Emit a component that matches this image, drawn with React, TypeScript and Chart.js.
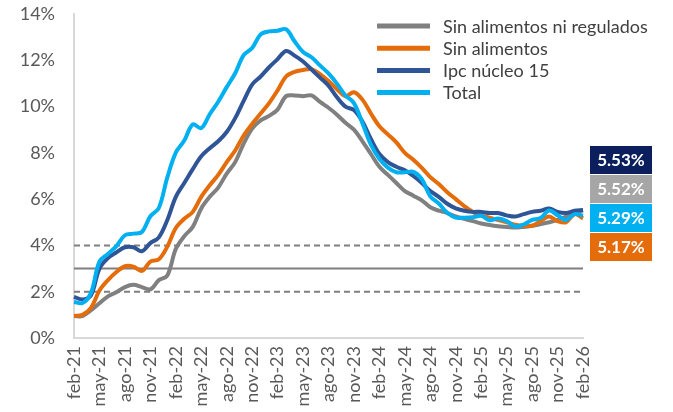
import React, { useEffect, useRef } from 'react';
import { Chart, registerables } from 'chart.js';

Chart.register(...registerables);

// ---------- DATA ----------
const months = [
  'feb-21', 'mar-21', 'abr-21', 'may-21', 'jun-21', 'jul-21', 'ago-21', 'sep-21', 'oct-21', 'nov-21', 'dic-21',
  'ene-22', 'feb-22', 'mar-22', 'abr-22', 'may-22', 'jun-22', 'jul-22', 'ago-22', 'sep-22', 'oct-22', 'nov-22', 'dic-22',
  'ene-23', 'feb-23', 'mar-23', 'abr-23', 'may-23', 'jun-23', 'jul-23', 'ago-23', 'sep-23', 'oct-23', 'nov-23', 'dic-23',
  'ene-24', 'feb-24', 'mar-24', 'abr-24', 'may-24', 'jun-24', 'jul-24', 'ago-24', 'sep-24', 'oct-24', 'nov-24', 'dic-24',
  'ene-25', 'feb-25', 'mar-25', 'abr-25', 'may-25', 'jun-25', 'jul-25', 'ago-25', 'sep-25', 'oct-25', 'nov-25', 'dic-25',
  'ene-26', 'feb-26',
];

const sinAlimentosNiRegulados = [
  0.95, 0.95, 1.2, 1.5, 1.8, 1.98, 2.2, 2.3, 2.2, 2.1, 2.5,
  2.7, 3.85, 4.4, 4.8, 5.6, 6.1, 6.5, 7.1, 7.6, 8.4, 9.05, 9.4,
  9.6, 9.87, 10.45, 10.48, 10.45, 10.48, 10.2, 9.95, 9.65, 9.3, 9.0, 8.5,
  7.95, 7.4, 7.05, 6.7, 6.35, 6.15, 5.95, 5.65, 5.5, 5.4, 5.25, 5.15,
  5.05, 4.95, 4.88, 4.83, 4.8, 4.77, 4.8, 4.85, 4.92, 5.0, 5.1, 5.25,
  5.4, 5.52,
];

const sinAlimentos = [
  0.95, 1.0, 1.3, 2.05, 2.5, 2.85, 3.1, 3.08, 2.9, 3.3, 3.4,
  3.95, 4.75, 5.15, 5.45, 6.1, 6.6, 7.05, 7.6, 8.1, 8.75, 9.25, 9.7,
  10.15, 10.7, 11.3, 11.5, 11.58, 11.62, 11.4, 11.1, 10.75, 10.45, 10.62, 10.3,
  9.7, 9.15, 8.8, 8.45, 8.0, 7.7, 7.35, 6.95, 6.65, 6.3, 6.0, 5.7,
  5.45, 5.3, 5.2, 5.1, 5.0, 4.9, 4.85, 4.85, 5.05, 5.25, 5.05, 5.0,
  5.35, 5.17,
];

const ipcNucleo15 = [
  1.78, 1.66, 1.85, 3.0, 3.45, 3.7, 3.92, 3.92, 3.75, 4.1, 4.35,
  5.1, 6.1, 6.7, 7.3, 7.85, 8.2, 8.5, 8.9, 9.5, 10.25, 10.95, 11.3,
  11.7, 12.05, 12.4, 12.2, 11.95, 11.6, 11.25, 10.9, 10.4, 10.0, 9.85, 9.35,
  8.6, 7.95, 7.6, 7.4, 7.25, 7.0, 6.7, 6.35, 6.1, 5.8, 5.6, 5.5,
  5.45, 5.45, 5.4, 5.4, 5.3, 5.25, 5.35, 5.45, 5.5, 5.6, 5.45, 5.4,
  5.5, 5.53,
];

const total = [
  1.56, 1.51, 1.95, 3.30, 3.63, 3.97, 4.44, 4.51, 4.58, 5.26, 5.62,
  6.94, 8.01, 8.53, 9.23, 9.07, 9.67, 10.21, 10.84, 11.44, 12.22, 12.53, 13.12,
  13.25, 13.28, 13.34, 12.82, 12.36, 12.13, 11.78, 11.43, 10.99, 10.48, 10.15, 9.28,
  8.35, 7.74, 7.36, 7.16, 7.16, 7.18, 6.86, 6.12, 5.81, 5.41, 5.20, 5.20,
  5.22, 5.28, 5.09, 5.16, 5.05, 4.82, 4.90, 5.10, 5.18, 5.51, 5.30, 5.10,
  5.35, 5.29,
];

const seriesLabels = ['Sin alimentos ni regulados', 'Sin alimentos', 'Ipc núcleo 15', 'Total'];

const rangeUpper = 4;
const target = 3;
const rangeLower = 2;

const yMin = 0;
const yMax = 14;
const yStep = 2;

// ---------- STYLE ----------
const FONT = 'Lato, "Open Sans", sans-serif';
const lineColors = ['#808080', '#E46C0A', '#2F5597', '#00B0F0'];
const boxColors = ['#A6A6A6', '#E46C0A', '#0B1F5C', '#00B0F0'];
const drawOrder = [4, 3, 2, 1];

const seriesData = [sinAlimentosNiRegulados, sinAlimentos, ipcNucleo15, total];

const overlayPlugin = {
  id: 'overlay',
  afterDraw(chart: any) {
    const ctx = chart.ctx;
    const area = chart.chartArea;
    ctx.save();

    // Legend (top right, inside plot)
    const lx0 = area.left + 303;
    const lx1 = lx0 + 53;
    const tx = lx1 + 13;
    seriesLabels.forEach((label, k) => {
      const y = 26 + k * 22.2;
      ctx.strokeStyle = lineColors[k];
      ctx.lineWidth = 5;
      ctx.lineCap = 'butt';
      ctx.beginPath();
      ctx.moveTo(lx0, y);
      ctx.lineTo(lx1, y);
      ctx.stroke();
      ctx.fillStyle = '#404040';
      ctx.font = `18px ${FONT}`;
      ctx.textAlign = 'left';
      ctx.textBaseline = 'middle';
      ctx.fillText(label, tx, y + 1);
    });

    // Last-value boxes
    const items = seriesData.map((d, k) => ({ v: d[d.length - 1], c: boxColors[k] }));
    items.sort((a, b) => b.v - a.v);
    const bx = area.right + 7;
    const bw = 62;
    const bh = 28;
    let by = area.top + 132;
    items.forEach((it) => {
      ctx.fillStyle = it.c;
      ctx.fillRect(bx, by, bw, bh);
      ctx.fillStyle = '#ffffff';
      ctx.font = `bold 17px ${FONT}`;
      ctx.textAlign = 'center';
      ctx.textBaseline = 'middle';
      ctx.fillText(it.v.toFixed(2) + '%', bx + bw / 2, by + bh / 2 + 1);
      by += bh + 1;
    });

    ctx.restore();
  },
};

export default function App() {
  const ref = useRef<HTMLCanvasElement | null>(null);

  useEffect(() => {
    if (!ref.current) return;

    const refLine = (value: number, dashed: boolean) => ({
      label: '',
      data: months.map(() => value),
      borderColor: '#7F7F7F',
      borderWidth: 2,
      borderDash: dashed ? [6, 4] : [],
      pointRadius: 0,
      tension: 0,
      order: 10,
    });

    const chart = new Chart(ref.current, {
      type: 'line',
      data: {
        labels: months,
        datasets: [
          ...seriesData.map((d, k) => ({
            label: seriesLabels[k],
            data: d,
            borderColor: lineColors[k],
            backgroundColor: lineColors[k],
            borderWidth: 4,
            pointRadius: 0,
            tension: 0.35,
            borderJoinStyle: 'round' as const,
            order: drawOrder[k],
          })),
          refLine(rangeUpper, true),
          refLine(target, false),
          refLine(rangeLower, true),
        ],
      },
      options: {
        responsive: false,
        animation: false,
        layout: { padding: { left: 0, right: 90, top: 14, bottom: 0 } },
        plugins: {
          legend: { display: false },
          tooltip: { enabled: false },
          title: { display: false },
        },
        scales: {
          x: {
            type: 'category',
            offset: false,
            grid: { display: false, drawTicks: false },
            border: { display: true, color: '#D9D9D9', width: 2 },
            afterFit: (s: any) => {
              s.height = 74;
              s.paddingLeft = 0;
              s.paddingRight = 0;
            },
            ticks: {
              autoSkip: false,
              maxRotation: 90,
              minRotation: 90,
              padding: 8,
              color: '#595959',
              font: { family: FONT, size: 18 },
              callback: (_v: any, i: number) => (i % 3 === 0 ? months[i] : ''),
            },
          },
          y: {
            min: yMin,
            max: yMax,
            grid: { display: false, drawTicks: false },
            border: { display: true, color: '#D9D9D9', width: 2 },
            afterFit: (s: any) => {
              s.width = 74;
              s.paddingTop = 0;
              s.paddingBottom = 0;
            },
            ticks: {
              stepSize: yStep,
              padding: 19,
              color: '#595959',
              font: { family: FONT, size: 18 },
              callback: (v: any) => `${v}%`,
            },
          },
        },
      },
      plugins: [overlayPlugin],
    });

    return () => chart.destroy();
  }, []);

  return (
    <div style={{ position: 'fixed', left: 0, top: 0, width: 673, height: 412, background: '#fff' }}>
      <canvas ref={ref} width={673} height={412} style={{ width: 673, height: 412, display: 'block' }} />
    </div>
  );
}
